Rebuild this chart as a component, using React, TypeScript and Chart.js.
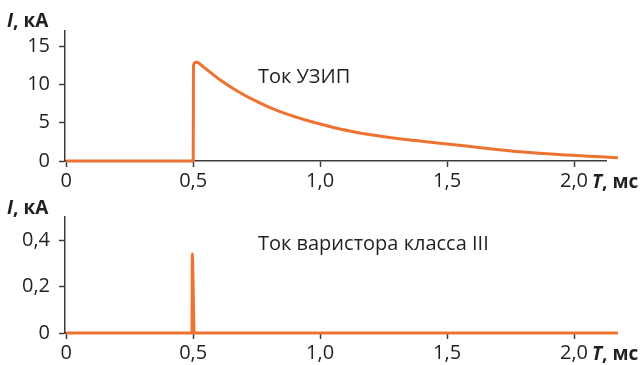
import React, { useEffect, useRef } from "react";
import { Chart, registerables } from "chart.js";

Chart.register(...registerables);

// ---------- data ----------
const xTicks = [0, 0.5, 1.0, 1.5, 2.0];
const topYTicks = [0, 5, 10, 15];
const bottomYTicks = [0, 0.2, 0.4];

// Ток УЗИП (кА) vs T (мс)
const uzipTime = [0, 0.5, 0.501, 0.505, 0.512, 0.53, 0.557, 0.608, 0.675, 0.742, 0.805, 0.872, 0.939, 1.004, 1.07, 1.137, 1.2, 1.266, 1.337, 1.436, 1.5, 1.567, 1.695, 1.825, 1.976, 2.106, 2.173];
const uzipCurrent = [0, 0, 12.3, 12.85, 12.95, 12.6, 11.87, 10.56, 9.13, 7.92, 6.95, 6.1, 5.4, 4.8, 4.25, 3.8, 3.42, 3.1, 2.8, 2.46, 2.22, 1.98, 1.51, 1.1, 0.78, 0.55, 0.43];

// Ток варистора класса III (кА) vs T (мс)
const varistorTime = [0, 0.495, 0.4965, 0.504, 2.173];
const varistorCurrent = [0, 0, 0.34, 0, 0];

const topLabel = "Ток УЗИП";
const bottomLabel = "Ток варистора класса III";

// ---------- style ----------
const FONT = "'Open Sans', 'Noto Sans', sans-serif";
const ORANGE = "#EE7231";
const AXIS = "#3C3C3C";
const TEXT = "#231F20";

const fmtComma = (v: number) => (v === 0 ? "0" : v.toFixed(1).replace(".", ","));

function drawMixed(ctx: CanvasRenderingContext2D, parts: { t: string; italic?: boolean }[], x: number, y: number, size: number) {
  let cx = x;
  for (const p of parts) {
    ctx.font = `${p.italic ? "italic " : ""}bold ${size}px ${FONT}`;
    ctx.fillText(p.t, cx, y);
    cx += ctx.measureText(p.t).width;
  }
}

type Cfg = {
  canvasH: number;
  areaTop: number;
  areaBottom: number;
  yMax: number;
  yTicks: number[];
  yFmt: (v: number) => string;
  time: number[];
  current: number[];
  label: string;
  labelAt: [number, number];
  yTitleBaseline: number;
};

function makeChart(canvas: HTMLCanvasElement, cfg: Cfg) {
  const textPlugin = {
    id: "texts",
    afterDraw(chart: any) {
      const ctx: CanvasRenderingContext2D = chart.ctx;
      const xs = chart.scales.x;
      const ys = chart.scales.y;
      const area = chart.chartArea;
      ctx.save();
      ctx.fillStyle = TEXT;
      ctx.textBaseline = "alphabetic";
      ctx.textAlign = "left";
      drawMixed(ctx, [{ t: "I", italic: true }, { t: ", кА" }], 7, cfg.yTitleBaseline, 19);
      drawMixed(ctx, [{ t: "T", italic: true }, { t: ", мс" }], xs.getPixelForValue(2.0) + 18, area.bottom + 27, 19);
      ctx.font = `20px ${FONT}`;
      ctx.fillText(cfg.label, xs.getPixelForValue(cfg.labelAt[0]), ys.getPixelForValue(cfg.labelAt[1]));
      ctx.restore();
    },
  };

  return new Chart(canvas, {
    type: "line",
    data: {
      datasets: [
        {
          data: cfg.time.map((t, i) => ({ x: t, y: cfg.current[i] })),
          borderColor: ORANGE,
          backgroundColor: ORANGE,
          borderWidth: 3,
          pointRadius: 0,
          cubicInterpolationMode: "monotone",
          borderJoinStyle: "round",
          clip: false as any,
          fill: false,
        },
      ],
    },
    options: {
      responsive: false,
      animation: false,
      events: [],
      layout: { padding: { left: 0, right: 34, top: cfg.areaTop, bottom: 0 } },
      plugins: { legend: { display: false }, tooltip: { enabled: false }, title: { display: false } },
      scales: {
        x: {
          type: "linear",
          position: "bottom",
          min: -0.005,
          max: 2.126,
          afterBuildTicks: (s: any) => {
            s.ticks = xTicks.map((value) => ({ value }));
          },
          afterFit: (s: any) => {
            s.height = cfg.canvasH - cfg.areaBottom;
          },
          grid: { display: true, drawOnChartArea: false, drawTicks: true, tickLength: 6, tickColor: AXIS, tickWidth: 1.5 },
          border: { display: true, color: AXIS, width: 1.5 },
          ticks: {
            font: { family: FONT, size: 20 },
            color: TEXT,
            padding: 2,
            maxRotation: 0,
            autoSkip: false,
            callback: (v: any) => fmtComma(Number(v)),
          },
        },
        y: {
          type: "linear",
          position: "left",
          min: 0,
          max: cfg.yMax,
          afterBuildTicks: (s: any) => {
            s.ticks = cfg.yTicks.map((value) => ({ value }));
          },
          afterFit: (s: any) => {
            s.width = 65;
          },
          grid: { display: true, drawOnChartArea: false, drawTicks: true, tickLength: 6, tickColor: AXIS, tickWidth: 1.5 },
          border: { display: true, color: AXIS, width: 1.5 },
          ticks: {
            font: { family: FONT, size: 20 },
            color: TEXT,
            padding: 9,
            autoSkip: false,
            callback: (v: any) => cfg.yFmt(Number(v)),
          },
        },
      },
    },
    plugins: [textPlugin],
  } as any);
}

const TOP_H = 196;
const BOTTOM_OFFSET = 196;
const BOTTOM_H = 365 - BOTTOM_OFFSET;

export default function App() {
  const topRef = useRef<HTMLCanvasElement | null>(null);
  const botRef = useRef<HTMLCanvasElement | null>(null);

  useEffect(() => {
    const c1 = makeChart(topRef.current!, {
      canvasH: TOP_H,
      areaTop: 31,
      areaBottom: 161,
      yMax: 17,
      yTicks: topYTicks,
      yFmt: (v) => String(v),
      time: uzipTime,
      current: uzipCurrent,
      label: topLabel,
      labelAt: [0.755, 10.2],
      yTitleBaseline: 27,
    });
    const c2 = makeChart(botRef.current!, {
      canvasH: BOTTOM_H,
      areaTop: 11,
      areaBottom: 137,
      yMax: 0.5,
      yTicks: bottomYTicks,
      yFmt: fmtComma,
      time: varistorTime,
      current: varistorCurrent,
      label: bottomLabel,
      labelAt: [0.755, 0.357],
      yTitleBaseline: 18,
    });
    return () => {
      c1.destroy();
      c2.destroy();
    };
  }, []);

  return (
    <div style={{ position: "absolute", left: 0, top: 0, width: 640, height: 365, background: "#fff" }}>
      <canvas ref={topRef} width={640} height={TOP_H} style={{ position: "absolute", left: 0, top: 0 }} />
      <canvas ref={botRef} width={640} height={BOTTOM_H} style={{ position: "absolute", left: 0, top: BOTTOM_OFFSET }} />
    </div>
  );
}
